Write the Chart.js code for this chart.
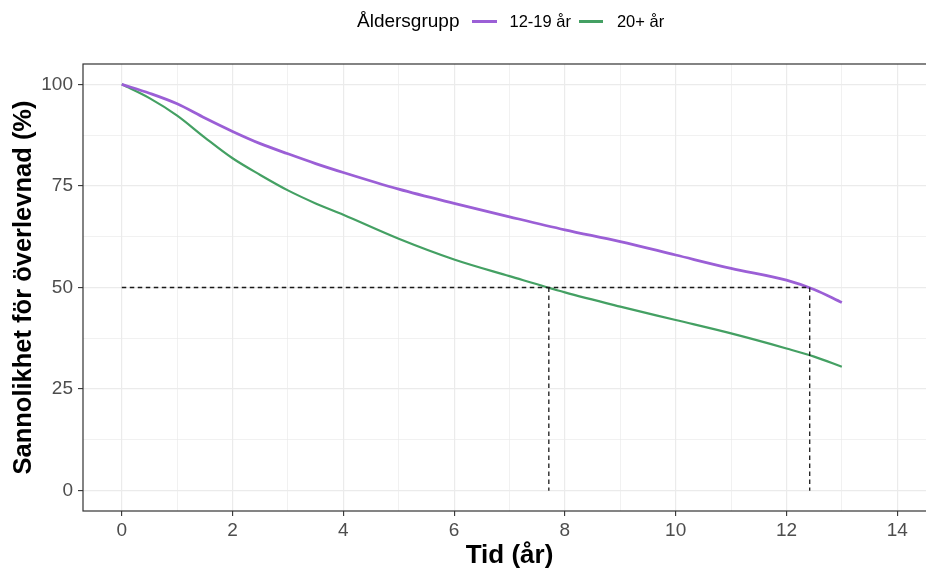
<!DOCTYPE html>
<html>
<head>
<meta charset="utf-8">
<script src="https://cdn.jsdelivr.net/npm/chart.js@4"></script>
<style>
  body { margin: 0; overflow: hidden; background: #fff; font-family: "Liberation Sans", Arial, sans-serif; }
  #wrap { position: relative; width: 960px; height: 571px; }
  #legend { position: absolute; left: 357px; top: 8px; height: 26px; display: flex; align-items: center; color: #000; }
  #legend .titel { font-size: 19px; }
  #legend .prov { display: inline-block; width: 25px; height: 3px; }
  #legend .etikett { font-size: 16.5px; }
</style>
</head>
<body>
<div id="wrap">
  <canvas id="miGrafica"></canvas>
  <div id="legend"></div>
</div>
<script>
// Tid i år och överlevnad (%) per åldersgrupp
const tid = [0, 0.5, 1, 1.5, 2, 2.5, 3, 3.5, 4, 5, 6, 7, 8, 9, 10, 11, 12, 12.5, 13]
const overlevnadUng = [100, 97.8, 95.2, 91.7, 88.4, 85.4, 82.9, 80.5, 78.3, 74.2, 70.7, 67.4, 64.2, 61.3, 58.0, 54.7, 51.8, 49.5, 46.3]
const overlevnadVuxen = [100, 96.6, 92.3, 86.9, 81.8, 77.7, 73.9, 70.7, 67.9, 62.0, 56.9, 52.8, 48.8, 45.3, 42.0, 38.7, 35.0, 33.0, 30.5]
const grupper = ["12-19 år", "20+ år"]
const farger = ["#9b5fd6", "#44a063"]
const medianTid = [12.42, 7.71]
const xTicks = [0, 1, 2, 3, 4, 5, 6, 7, 8, 9, 10, 11, 12, 13, 14]
const yTicks = [0, 12.5, 25, 37.5, 50, 62.5, 75, 87.5, 100]

const legend = document.getElementById("legend")
legend.innerHTML = `
  <span class="titel">Åldersgrupp</span>
  <span class="prov" style="background:${farger[0]};margin-left:13px"></span>
  <span class="etikett" style="margin-left:12px">${grupper[0]}</span>
  <span class="prov" style="background:${farger[1]};margin-left:8px;width:24px"></span>
  <span class="etikett" style="margin-left:14px">${grupper[1]}</span>
`

const punkter = (ys) => tid.map((t, i) => ({ x: t, y: ys[i] }))

const streckad = {
  borderColor: "#1a1a1a",
  borderWidth: 1.3,
  borderDash: [4.5, 3.5],
  pointRadius: 0,
  fill: false
}

const datasets = [
  { ...streckad, label: "median", data: [{ x: 0, y: 50 }, { x: Math.max(...medianTid), y: 50 }] },
  ...medianTid.map(m => ({ ...streckad, label: "median", data: [{ x: m, y: 50 }, { x: m, y: 0 }] })),
  {
    label: grupper[0],
    data: punkter(overlevnadUng),
    borderColor: farger[0],
    borderWidth: 2.8,
    pointRadius: 0,
    cubicInterpolationMode: "monotone",
    fill: false
  },
  {
    label: grupper[1],
    data: punkter(overlevnadVuxen),
    borderColor: farger[1],
    borderWidth: 2.2,
    pointRadius: 0,
    cubicInterpolationMode: "monotone",
    fill: false
  }
]

const ram = {
  id: "ram",
  afterDraw(chart) {
    const { ctx, chartArea: a } = chart
    ctx.save()
    ctx.strokeStyle = "#333333"
    ctx.lineWidth = 1.2
    ctx.strokeRect(a.left, a.top, a.right - a.left, a.bottom - a.top)
    ctx.restore()
  }
}

const fontFamily = '"Liberation Sans", Arial, sans-serif'
const arMajor = (v, steg) => Math.abs(v / steg - Math.round(v / steg)) < 1e-6

new Chart(document.getElementById("miGrafica").getContext("2d"), {
  type: "line",
  data: { datasets },
  plugins: [ram],
  options: {
    responsive: true,
    maintainAspectRatio: false,
    animation: false,
    layout: { padding: { top: 64, right: 24, bottom: 0, left: 0 } },
    plugins: { legend: { display: false }, tooltip: { enabled: false } },
    scales: {
      x: {
        type: "linear",
        min: -0.7,
        max: 14.7,
        afterBuildTicks: s => { s.ticks = xTicks.map(v => ({ value: v })) },
        afterFit: s => { s.height = 60 },
        border: { display: false },
        grid: {
          color: "#ebebeb",
          lineWidth: c => arMajor(c.tick.value, 2) ? 1.2 : 0.7,
          tickColor: c => arMajor(c.tick.value, 2) ? "#333333" : "rgba(0,0,0,0)",
          tickLength: 5,
          tickWidth: 1.1
        },
        ticks: {
          autoSkip: false,
          maxRotation: 0,
          padding: 3,
          color: "#4d4d4d",
          font: { family: fontFamily, size: 19 },
          callback: v => arMajor(v, 2) ? v : ""
        },
        title: {
          display: true,
          text: "Tid (år)",
          color: "#000",
          font: { family: fontFamily, size: 26, weight: "bold" },
          padding: { top: 2, bottom: 0 }
        }
      },
      y: {
        min: -5,
        max: 105,
        afterBuildTicks: s => { s.ticks = yTicks.map(v => ({ value: v })) },
        afterFit: s => { s.width = 83 },
        border: { display: false },
        grid: {
          color: "#ebebeb",
          lineWidth: c => arMajor(c.tick.value, 25) ? 1.2 : 0.7,
          tickColor: c => arMajor(c.tick.value, 25) ? "#333333" : "rgba(0,0,0,0)",
          tickLength: 5,
          tickWidth: 1.1
        },
        ticks: {
          autoSkip: false,
          padding: 5,
          color: "#4d4d4d",
          font: { family: fontFamily, size: 19 },
          callback: v => arMajor(v, 25) ? v : ""
        },
        title: {
          display: true,
          text: "Sannolikhet för överlevnad (%)",
          color: "#000",
          font: { family: fontFamily, size: 25.5, weight: "bold" },
          padding: { top: 9, bottom: 0 }
        }
      }
    }
  }
})
</script>
</body>
</html>
